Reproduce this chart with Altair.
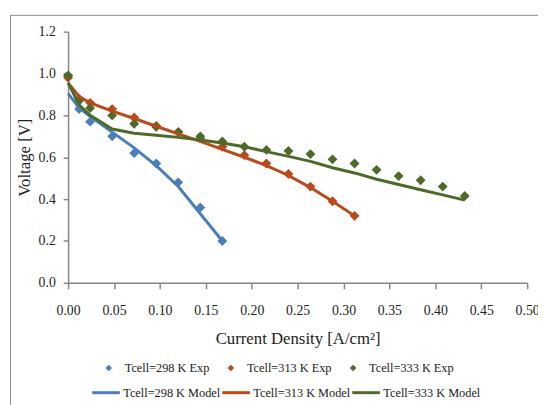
import altair as alt
import pandas as pd

# ---- data ----
x_grid = [0, 0.012, 0.024, 0.048, 0.072, 0.096, 0.12, 0.144, 0.168, 0.192,
          0.216, 0.24, 0.264, 0.288, 0.312, 0.336, 0.36, 0.384, 0.408, 0.432]

exp_names = ["Tcell=298 K Exp", "Tcell=313 K Exp", "Tcell=333 K Exp"]
model_names = ["Tcell=298 K Model", "Tcell=313 K Model", "Tcell=333 K Model"]
colors = ["#4A7EBB", "#B84A1C", "#4F6A28"]

exp_298 = [0.99, 0.83, 0.77, 0.70, 0.62, 0.57, 0.48, 0.36, 0.20]
exp_313 = [0.98, 0.88, 0.86, 0.83, 0.79, 0.75, 0.72, 0.69, 0.65, 0.61,
           0.57, 0.52, 0.46, 0.39, 0.32]
exp_333 = [0.99, 0.87, 0.835, 0.80, 0.76, 0.745, 0.72, 0.70, 0.675, 0.65,
           0.635, 0.63, 0.615, 0.59, 0.57, 0.54, 0.51, 0.49, 0.46, 0.415]

model_298 = [0.905, 0.835, 0.795, 0.72, 0.645, 0.56, 0.46, 0.33, 0.20]
model_313 = [0.955, 0.89, 0.86, 0.82, 0.785, 0.748, 0.712, 0.676, 0.638, 0.60,
             0.56, 0.513, 0.455, 0.39, 0.32]
model_333 = [0.955, 0.85, 0.80, 0.735, 0.715, 0.705, 0.695, 0.682, 0.668, 0.65,
             0.627, 0.604, 0.58, 0.55, 0.525, 0.495, 0.47, 0.445, 0.42, 0.395]

x_ticks = [0, 0.05, 0.1, 0.15, 0.2, 0.25, 0.3, 0.35, 0.4, 0.45, 0.5]
y_ticks = [0, 0.2, 0.4, 0.6, 0.8, 1.0, 1.2]

# ---- build tables ----
exp_rows = []
for name, vals in zip(exp_names, [exp_298, exp_313, exp_333]):
    for xv, yv in zip(x_grid, vals):
        exp_rows.append({"x": xv, "y": yv, "series": name})
exp_df = pd.DataFrame(exp_rows)

model_rows = []
for name, vals in zip(model_names, [model_298, model_313, model_333]):
    for xv, yv in zip(x_grid, vals):
        model_rows.append({"x": xv, "y": yv, "series": name})
model_df = pd.DataFrame(model_rows)

FONT = "Liberation Serif"
AX = "#868686"
TXT = "#222222"

x_enc = alt.X("x:Q", scale=alt.Scale(domain=[0, 0.5], nice=False),
              axis=alt.Axis(values=x_ticks, format=".2f",
                            title="Current Density [A/cm²]",
                            labelFlush=False, grid=False,
                            domainColor=AX, domainWidth=1.5,
                            tickColor=AX, tickWidth=1.5, tickSize=6,
                            labelFont=FONT, labelFontSize=14, labelColor=TXT,
                            labelPadding=15,
                            titleFont=FONT, titleFontSize=17, titleColor=TXT,
                            titleFontWeight="normal", titlePadding=14))
y_enc = alt.Y("y:Q", scale=alt.Scale(domain=[0, 1.2], nice=False),
              axis=alt.Axis(values=y_ticks, format=".1f", title="Voltage [V]",
                            labelFlush=False, grid=False,
                            domainColor=AX, domainWidth=1.5,
                            tickColor=AX, tickWidth=1.5, tickSize=5,
                            labelFont=FONT, labelFontSize=14, labelColor=TXT,
                            labelPadding=8,
                            titleFont=FONT, titleFontSize=17, titleColor=TXT,
                            titleFontWeight="normal", titlePadding=5))

points = alt.Chart(exp_df).mark_point(
    filled=True, shape="diamond", size=100, opacity=1
).encode(
    x=x_enc,
    y=y_enc,
    fill=alt.Fill("series:N", scale=alt.Scale(domain=exp_names, range=colors),
                  legend=alt.Legend(title=None, orient="none", legendX=35, legendY=335,
                                    direction="horizontal", symbolType="diamond",
                                    symbolSize=45, symbolStrokeWidth=0,
                                    labelFont=FONT, labelFontSize=12.5,
                                    labelColor=TXT, labelOffset=10,
                                    columnPadding=15, padding=0)),
)

lines = alt.Chart(model_df).mark_line(strokeWidth=3).encode(
    x="x:Q",
    y="y:Q",
    stroke=alt.Stroke("series:N", scale=alt.Scale(domain=model_names, range=colors),
                      legend=alt.Legend(title=None, orient="none", legendX=23, legendY=351,
                                        direction="horizontal", symbolType="stroke",
                                        symbolSize=784, symbolStrokeWidth=3,
                                        labelFont=FONT, labelFontSize=12.5,
                                        labelColor=TXT, labelOffset=2,
                                        columnPadding=-6.5, padding=0)),
)

one = alt.Data(values=[{"a": 0}])
border_left = alt.Chart(one).mark_rule(color="#8C8C8C", strokeWidth=1).encode(
    x=alt.value(-58.5), x2=alt.value(-58.5), y=alt.value(-17), y2=alt.value(420))
border_top = alt.Chart(one).mark_rule(color="#8C8C8C", strokeWidth=1).encode(
    x=alt.value(-58.5), x2=alt.value(520), y=alt.value(-16.5), y2=alt.value(-16.5))

chart = alt.layer(border_left, border_top, points, lines).properties(
    width=466, height=255,
    autosize=alt.AutoSizeParams(type="none"),
    padding={"left": 61, "top": 21, "right": 11, "bottom": 121},
    background="white",
).configure_view(stroke=None)

chart.save("out.html", embed_options={"renderer": "svg", "actions": False})
